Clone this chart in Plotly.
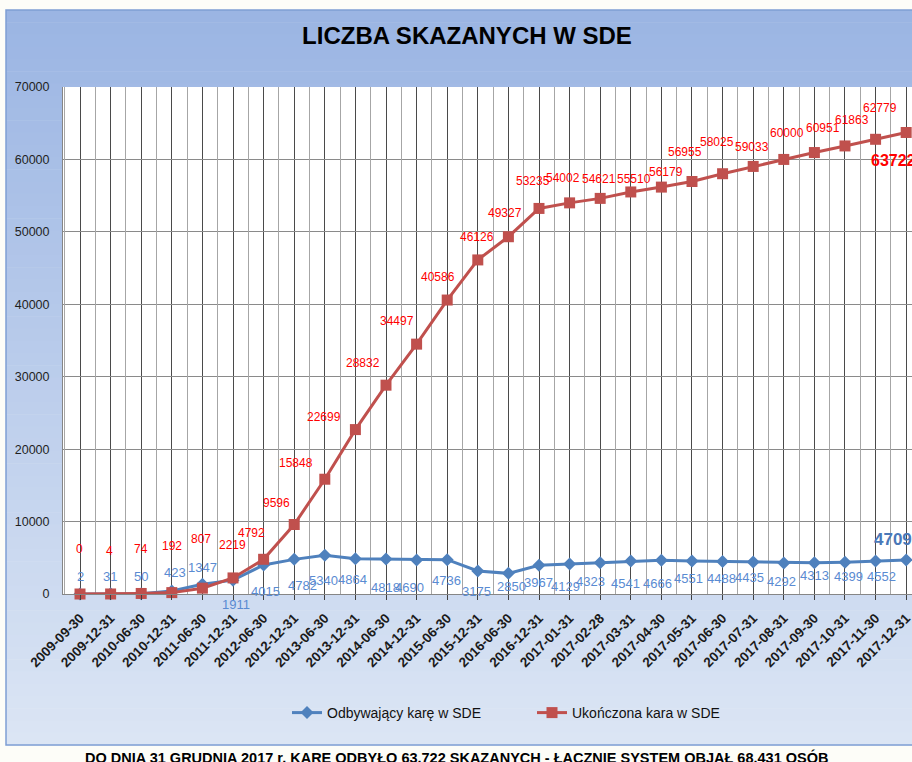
import plotly.graph_objects as go

# ---------------- data ----------------
dates = ["2009-09-30", "2009-12-31", "2010-06-30", "2010-12-31", "2011-06-30", "2011-12-31",
         "2012-06-30", "2012-12-31", "2013-06-30", "2013-12-31", "2014-06-30", "2014-12-31",
         "2015-06-30", "2015-12-31", "2016-06-30", "2016-12-31", "2017-01-31", "2017-02-28",
         "2017-03-31", "2017-04-30", "2017-05-31", "2017-06-30", "2017-07-31", "2017-08-31",
         "2017-09-30", "2017-10-31", "2017-11-30", "2017-12-31"]
odbywajacy = [2, 31, 50, 423, 1347, 1911, 4015, 4782, 5340, 4864, 4818, 4690, 4736, 3175,
              2850, 3967, 4129, 4323, 4541, 4666, 4551, 4488, 4435, 4292, 4313, 4399, 4552, 4709]
ukonczona = [0, 4, 74, 192, 807, 2219, 4792, 9596, 15848, 22699, 28832, 34497, 40586, 46126,
             49327, 53235, 54002, 54621, 55510, 56179, 56955, 58025, 59033, 60000, 60951, 61863,
             62779, 63722]
yticks = [0, 10000, 20000, 30000, 40000, 50000, 60000, 70000]
title_text = "LICZBA SKAZANYCH W SDE"
series_names = ["Odbywający karę w SDE", "Ukończona kara w SDE"]
footer_text = "DO DNIA 31 GRUDNIA 2017 r. KARĘ ODBYŁO 63.722 SKAZANYCH - ŁĄCZNIE SYSTEM OBJĄŁ 68.431 OSÓB"

# ---------------- label placement (pixel shifts, style only) ----------------
red_dx = [-1, -1, 0, 0, -1, -1, -12, -18, -29, -31, -23, -20, -9, -1, -3, -6, -7, -1, 3, 5,
          -7, -6, -1, 3, 9, 7, 4, -13]
red_dy = [-45, -43, -44, -47, -49, -33, -26, -22, -16, -13, -22, -23, -23, -23, -24, -27, -25,
          -19, -13, -15, -29, -32, -19, -26, -25, -26, -31, 28]
blue_dx = [0, -1, 0, 3, 0, 3, 2, 8, -1, -3, -1, -7, -1, -1, 3, -1, -4, -10, -5, -4, -3, -1,
           -4, -2, 0, 4, 6, -13]
blue_dy = [-17, -17, -17, -18, -17, 24, 27, 26, 25, 21, 28, 27, 21, 20, 13, 17, 22, 19, 22, 23,
           17, 17, 16, 19, 13, 14, 15, -20]

BLUE = "#4f81bd"
BLUE_LBL = "#5a8bd2"
RED = "#c0504d"
RED_LBL = "#ff0000"
FONT = "Liberation Sans, Arial, sans-serif"

W, H = 912, 762
L, T, B = 63, 87, 168
PW, PH = W - L, H - T - B


def px2x(px):
    return (px - L) / PW


def py2y(py):
    return (H - B - py) / PH


fig = go.Figure()

fig.add_trace(go.Scatter(
    x=dates, y=odbywajacy, name=series_names[0], mode="lines+markers",
    line=dict(color=BLUE, width=3), marker=dict(symbol="diamond", size=10, color=BLUE),
    cliponaxis=False))
fig.add_trace(go.Scatter(
    x=dates, y=ukonczona, name=series_names[1], mode="lines+markers",
    line=dict(color=RED, width=3), marker=dict(symbol="square", size=11, color=RED),
    cliponaxis=False))
# empty trace to activate the half-category grid axis
fig.add_trace(go.Scatter(x=[], y=[], xaxis="x2", showlegend=False, hoverinfo="skip"))

annotations = []
n = len(dates)
for i in range(n):
    last = i == n - 1
    annotations.append(dict(
        x=dates[i], y=ukonczona[i], xref="x", yref="y",
        text=("<b>%d</b>" % ukonczona[i]) if last else str(ukonczona[i]),
        showarrow=False, xshift=red_dx[i], yshift=-red_dy[i],
        font=dict(family=FONT, size=16 if last else 12, color=RED_LBL),
        ))
    annotations.append(dict(
        x=dates[i], y=odbywajacy[i], xref="x", yref="y",
        text=("<b>%d</b>" % odbywajacy[i]) if last else str(odbywajacy[i]),
        showarrow=False, xshift=blue_dx[i], yshift=-blue_dy[i],
        font=dict(family=FONT, size=17 if last else 13, color="#4a78b8" if last else BLUE_LBL),
        ))

annotations.append(dict(
    x=px2x(456), y=py2y(757), xref="paper", yref="paper", text="<b>%s</b>" % footer_text,
    showarrow=False, xanchor="center", yanchor="middle",
    font=dict(family=FONT, size=14.5, color="#000000")))

# background gradient of the chart box
shapes = []
top_c = (155, 181, 227)
bot_c = (219, 229, 244)
y_top, y_bot = 10, 745
nstrips = 60
for k in range(nstrips):
    t = k / (nstrips - 1)
    c = tuple(round(top_c[j] + (bot_c[j] - top_c[j]) * t) for j in range(3))
    p0 = y_top + (y_bot - y_top) * k / nstrips
    p1 = y_top + (y_bot - y_top) * (k + 1) / nstrips + 0.6
    shapes.append(dict(type="rect", xref="paper", yref="paper", layer="below",
                       x0=px2x(6), x1=px2x(W + 5), y0=py2y(p1), y1=py2y(p0),
                       line=dict(width=0), fillcolor="rgb(%d,%d,%d)" % c))
shapes.append(dict(type="rect", xref="paper", yref="paper", layer="below",
                   x0=px2x(6), x1=px2x(W + 5), y0=py2y(y_bot), y1=py2y(y_top),
                   line=dict(width=1.5, color="#7f9ed3"), fillcolor="rgba(0,0,0,0)"))
# white plot area
shapes.append(dict(type="rect", xref="paper", yref="paper", layer="below",
                   x0=0, x1=1, y0=0, y1=1, line=dict(width=0), fillcolor="white"))

xr = [-0.556, 27.19]

fig.update_layout(
    width=W, height=H,
    margin=dict(l=L, r=0, t=T, b=B, pad=0),
    paper_bgcolor="#fdfdf8",
    plot_bgcolor="white",
    title=dict(text="<b>%s</b>" % title_text, x=467 / W, xref="container", xanchor="center",
               y=1 - 36 / H, yref="container", yanchor="middle",
               font=dict(family=FONT, size=24, color="#000000")),
    font=dict(family=FONT),
    xaxis=dict(type="category", range=xr, showgrid=True, gridcolor="#4a4a4a", gridwidth=1,
               showline=True, linecolor="#868686", linewidth=1,
               ticks="outside", ticklen=5, tickcolor="#404040", ticklabelstandoff=5,
               tickangle=-45, tickfont=dict(family=FONT, size=13.5, color="#1a1a1a"),
               tickprefix="<b>", ticksuffix="</b>", fixedrange=True),
    xaxis2=dict(overlaying="x", anchor="y", type="linear", range=xr, tick0=0.5, dtick=1,
                showgrid=True, gridcolor="#a6a6a6", gridwidth=1, showticklabels=False,
                ticks="", showline=False, zeroline=False, fixedrange=True),
    yaxis=dict(range=[0, 70000], tickvals=yticks, tickformat="d", showgrid=True,
               gridcolor="#8a8a8a", gridwidth=1, showline=True, linecolor="#868686",
               linewidth=1, zeroline=False, ticks="", ticklabelstandoff=10,
               tickfont=dict(family=FONT, size=12.5, color="#1f1f1f"), fixedrange=True),
    legend=dict(orientation="h", x=px2x(532), xanchor="center", y=py2y(713), yanchor="middle",
                bgcolor="rgba(0,0,0,0)", font=dict(family=FONT, size=14, color="#111111"),
                itemwidth=30, entrywidth=200, entrywidthmode="pixels"),
    annotations=annotations,
    shapes=shapes,
    showlegend=True,
)

fig.write_html(
    "out.html",
    config={"displayModeBar": False},
    post_script="document.body.style.margin='0';document.body.style.padding='0';"
                "document.body.style.overflow='hidden';",
)
